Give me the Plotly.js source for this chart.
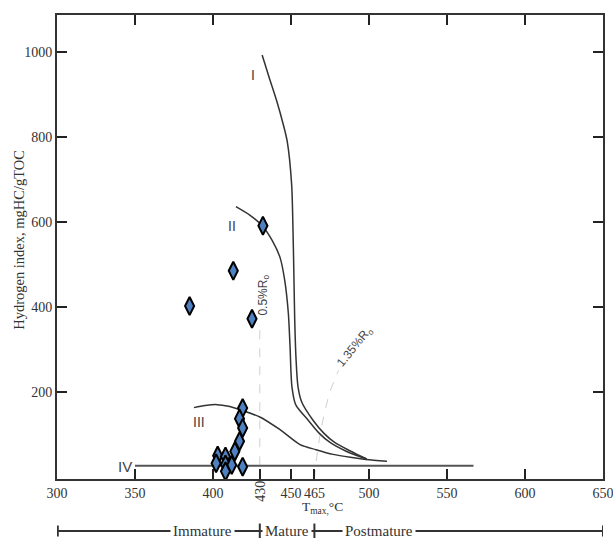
<!DOCTYPE html>
<html>
<head>
<meta charset="utf-8">
<script src="https://cdn.plot.ly/plotly-3.0.1.min.js"></script>
<style>html,body{margin:0;padding:0;background:#fff;}#chart{width:613px;height:538px;}</style>
</head>
<body>
<div id="chart"></div>
<script>
// Sample points (Tmax, HI)
var sampleTmax = [432, 413, 385, 425, 419, 417, 419, 417, 414, 403, 408, 402, 408, 412, 419, 408];
var sampleHI   = [591, 485, 402, 372, 162, 137, 115, 84, 60, 50, 48, 32, 29, 28, 24, 13];

// Kerogen evolution curves
var curveIx = [431.5, 436, 441, 445, 447.6, 450.4, 451.2, 451.8, 452.4, 453.2, 454.5, 457, 464, 471, 478, 488, 498.5];
var curveIy = [993, 940, 883, 830, 789, 689, 595, 485, 368, 280, 212, 175, 134, 103, 81, 61, 42];
var curveIIx = [414.7, 424, 431.8, 438, 443, 446, 448.3, 449.4, 450.6, 453, 460.9, 468, 475, 485, 498.5];
var curveIIy = [636, 615, 590, 556, 516, 462, 385, 306, 212, 170, 134, 103, 81, 61, 42];
var curveIIIx = [387.8, 395, 402.6, 410, 417.3, 430, 443, 455.8, 466, 477, 488, 498, 511.5];
var curveIIIy = [163, 168, 170, 166, 158, 141, 111, 76, 64, 53, 46, 41, 37];
var curveIVx = [350, 567];
var curveIVy = [26, 26];

// Maturity reference lines
var ro05x = [430, 430];
var ro05y = [345, -5];
var ro135x = [465, 467, 470.5, 475, 480.5];
var ro135y = [-5, 60, 134, 200, 251];

// Axis ticks
var xTickVals = [300, 350, 400, 430, 450, 465, 500, 550, 600, 650];
var xTickText = ['300', '350', '400', ' ', '450', '465', '500', '550', '600', '650'];
var xTopTickVals = [350, 400, 450, 500, 550, 600];
var yTickVals = [200, 400, 600, 800, 1000];

// Maturity zones
var zoneBounds = [300.5, 430, 465, 650];
var zoneLabels = ['Immature', 'Mature', 'Postmature'];
var zoneLabelX = [393, 447.5, 506.5];

var serif = 'Liberation Serif, Times New Roman, serif';
var sans = 'Liberation Sans, Arial, sans-serif';
var lineCol = '#333333';

function curve(x, y, w, col) {
  return {x: x, y: y, mode: 'lines', type: 'scatter', hoverinfo: 'skip',
    line: {color: col || lineCol, width: w || 1.5, shape: 'spline', smoothing: 0.8}};
}

var traces = [
  {x: ro05x, y: ro05y, mode: 'lines', hoverinfo: 'skip', line: {color: '#cfcfcf', width: 1, dash: 'dash'}},
  {x: ro135x, y: ro135y, mode: 'lines', hoverinfo: 'skip', line: {color: '#cfcfcf', width: 1, dash: 'dash', shape: 'spline'}},
  curve(curveIx, curveIy),
  curve(curveIIx, curveIIy),
  curve(curveIIIx, curveIIIy),
  {x: curveIVx, y: curveIVy, mode: 'lines', hoverinfo: 'skip', line: {color: '#555555', width: 2}},
  {x: sampleTmax, y: sampleHI, mode: 'markers', type: 'scatter', hoverinfo: 'x+y',
    marker: {symbol: 'diamond-tall', size: 13, color: '#4f81c0', line: {color: '#000000', width: 2}}},
  {x: [300], y: [-100], xaxis: 'x2', yaxis: 'y', mode: 'markers', marker: {opacity: 0}, hoverinfo: 'skip'}
];

var shapes = [];
var barY = -0.112;
shapes.push({type: 'line', xref: 'x', yref: 'paper', x0: zoneBounds[0], x1: zoneBounds[3], y0: barY, y1: barY, line: {color: lineCol, width: 2}});
zoneBounds.forEach(function (b, i) {
  var h = (i === 0 || i === zoneBounds.length - 1) ? 0.012 : 0.016;
  shapes.push({type: 'line', xref: 'x', yref: 'paper', x0: b, x1: b, y0: barY - h, y1: barY + h, line: {color: lineCol, width: 2}});
});

var annotations = [
  {x: 425.6, y: 946, text: 'I'},
  {x: 412, y: 590, text: 'II'},
  {x: 391, y: 130, text: 'III'},
  {x: 343.6, y: 24, text: 'IV', size: 15}
].map(function (a) {
  return {x: a.x, y: a.y, xref: 'x', yref: 'y', text: a.text, showarrow: false,
    font: {family: sans, size: a.size || 14, color: '#444444'}};
});

annotations.push({x: 432.8, y: 427, xref: 'x', yref: 'y', text: '0.5%R<sub>o</sub>', showarrow: false, textangle: -90,
  font: {family: sans, size: 12, color: '#444444'}});
annotations.push({x: 491, y: 306, xref: 'x', yref: 'y', text: '1.35%R<sub>o</sub>', showarrow: false, textangle: -51,
  font: {family: sans, size: 12, color: '#444444'}});
annotations.push({x: 430, y: -0.026, xref: 'x', yref: 'paper', xanchor: 'center', yanchor: 'middle', text: '430', showarrow: false, textangle: -90,
  font: {family: serif, size: 14, color: '#333333'}});
annotations.push({x: 470.5, y: -0.062, xref: 'x', yref: 'paper', xanchor: 'center', yanchor: 'middle', text: 'T<sub>max,</sub>°C', showarrow: false,
  font: {family: serif, size: 13.5, color: '#333333'}});
annotations.push({x: -0.07, y: 0.515, xref: 'paper', yref: 'paper', xanchor: 'center', yanchor: 'middle', text: 'Hydrogen index, mgHC/gTOC', showarrow: false, textangle: -90,
  font: {family: serif, size: 14.5, color: '#333333'}});
zoneLabels.forEach(function (t, i) {
  annotations.push({x: zoneLabelX[i], y: barY, xref: 'x', yref: 'paper', xanchor: 'center', yanchor: 'middle', text: t, showarrow: false,
    bgcolor: '#ffffff', borderpad: 2, font: {family: serif, size: 15, color: '#333333'}});
});

var axisCommon = {ticks: 'inside', ticklen: 10, tickwidth: 2, tickcolor: '#222222', showgrid: false, zeroline: false,
  ticklabeloverflow: 'allow', tickfont: {family: serif, size: 14, color: '#333333'}};

var layout = {
  width: 613, height: 538,
  margin: {l: 57, r: 10, t: 15, b: 59},
  paper_bgcolor: '#ffffff', plot_bgcolor: '#ffffff',
  showlegend: false,
  xaxis: Object.assign({}, axisCommon, {range: [300, 650], tickmode: 'array', tickvals: xTickVals, ticktext: xTickText,
    tickangle: 0, showline: true, linecolor: lineCol, linewidth: 2, mirror: true}),
  xaxis2: Object.assign({}, axisCommon, {range: [300, 650], overlaying: 'x', side: 'top', anchor: 'y', tickmode: 'array',
    tickvals: xTopTickVals, showticklabels: false, showline: false}),
  yaxis: Object.assign({}, axisCommon, {range: [-5, 1087], tickmode: 'array', tickvals: yTickVals,
    showline: true, linecolor: lineCol, linewidth: 2, mirror: 'ticks'}),
  shapes: shapes,
  annotations: annotations
};

Plotly.newPlot('chart', traces, layout, {displayModeBar: false, staticPlot: true});
</script>
</body>
</html>
